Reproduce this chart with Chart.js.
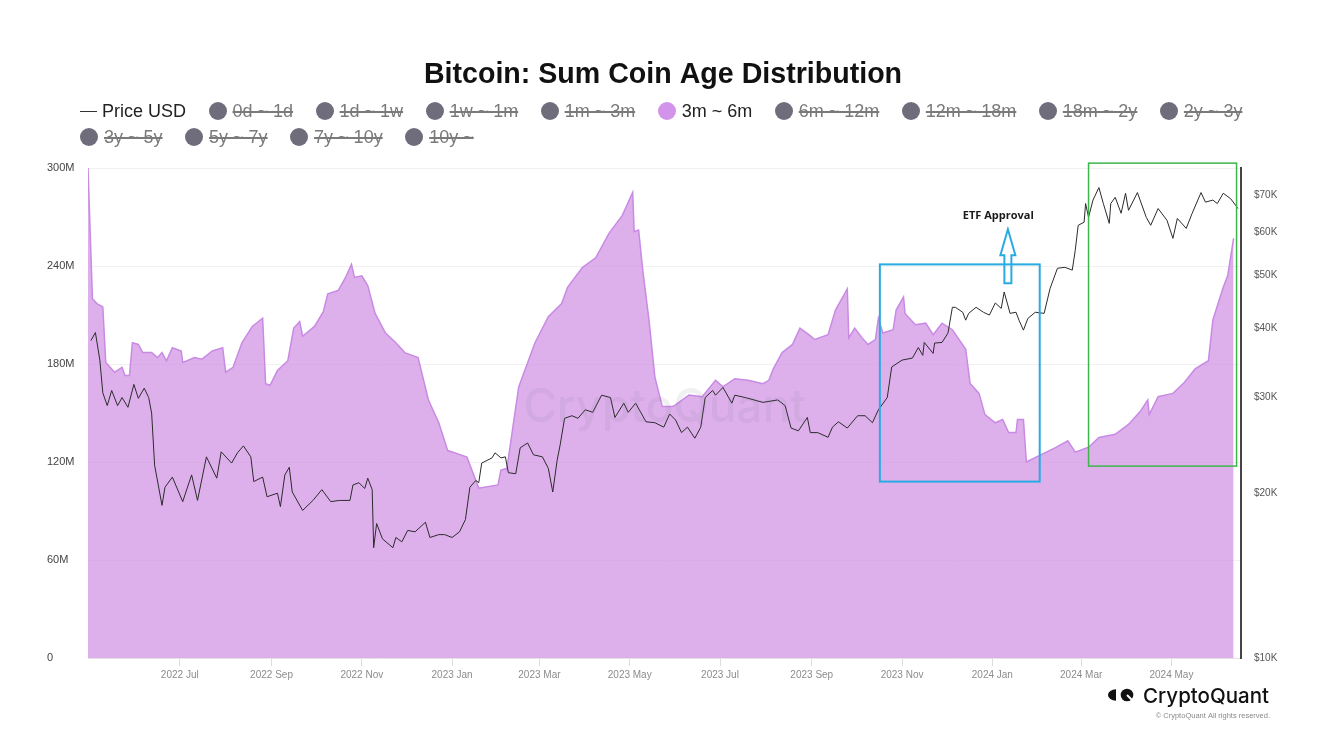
<!DOCTYPE html>
<html>
<head>
<meta charset="utf-8">
<title>Bitcoin: Sum Coin Age Distribution</title>
<script src="https://cdn.jsdelivr.net/npm/chart.js@4.4.1/dist/chart.umd.min.js"></script>
<style>
    html, body { margin: 0; padding: 0; background: #fff; }
    #wrap { position: relative; width: 1321px; height: 736px; }
    #legend {
        position: absolute; left: 80px; top: 98px; width: 1180px;
        display: flex; flex-wrap: wrap; column-gap: 22.5px;
        font: 18px "Liberation Sans", Arial, sans-serif; line-height: 26px;
    }
    .item { display: flex; align-items: center; height: 26px; white-space: nowrap; }
    .dot { width: 18px; height: 18px; border-radius: 50%; margin-right: 6px; }
    .dash { width: 17px; height: 1px; background: #333; margin-right: 5px; }
    .off { color: #7a7a7a; text-decoration: line-through; text-decoration-thickness: 1.5px; }
    .on { color: #222; }
</style>
</head>
<body>
<div id="wrap">
    <canvas id="coinAgeChart" width="1321" height="736"></canvas>
    <div id="legend"></div>
</div>
<script>
// x values are days since 2022-04-30
const startDate = Date.UTC(2022, 3, 30);

// 3m ~ 6m cohort, millions
const areaDay = [
    0, 3, 6, 10, 12, 18, 23, 25, 28, 30,
    34, 37, 43, 47, 50, 53, 57, 63, 64, 72,
    77, 84, 91, 93, 98, 104, 111, 118, 120, 123,
    128, 135, 139, 143, 145, 153, 159, 162, 169, 174,
    178, 180, 185, 189, 194, 201, 208, 214, 223, 230,
    237, 243, 250, 256, 264, 277, 279, 283, 291, 302,
    311, 320, 324, 334, 343, 352, 361, 368, 369, 372,
    375, 379, 383, 388, 395, 397, 406, 415, 424, 429,
    437, 446, 456, 460, 463, 469, 476, 481, 487, 491,
    500, 505, 513, 514, 518, 523, 527, 532, 534, 537,
    544, 546, 551, 552, 559, 566, 571, 577, 584, 593,
    596, 602, 606, 613, 618, 622, 627, 628, 632, 634,
    645, 654, 662, 667, 676, 683, 694, 703, 711, 716,
    717, 723, 733, 740, 748, 757, 760, 767, 770, 774
];
const areaVal = [
    300, 220, 217, 215, 181, 175, 178, 173, 173, 193,
    192, 187, 187, 184, 187, 182, 190, 188, 181, 184,
    183, 188, 190, 175, 178, 193, 203, 208, 168, 167,
    176, 182, 202, 206, 197, 203, 212, 223, 225, 233,
    241, 233, 234, 228, 211, 199, 193, 187, 184, 158,
    144, 127, 125, 123, 104, 106, 115, 116, 166, 193,
    209, 217, 227, 239, 245, 260, 271, 285, 261, 262,
    236, 207, 172, 154, 154, 155, 161, 160, 170, 166,
    171, 170, 168, 170, 177, 187, 192, 202, 198, 195,
    198, 213, 226, 196, 202, 196, 192, 195, 208, 199,
    201, 213, 221, 211, 204, 205, 198, 205, 201, 189,
    168, 162, 149, 144, 146, 138, 138, 146, 146, 120,
    125, 129, 133, 126, 129, 135, 137, 143, 151, 158,
    149, 160, 162, 168, 177, 182, 207, 227, 234, 257
];

// BTC price, USD
const priceDay = [
    2, 5, 8, 10, 13, 16, 20, 23, 27, 31, 34, 38, 41, 43, 45, 50, 52, 57, 64, 70,
    74, 80, 87, 90, 97, 101, 105, 110, 112, 118, 121, 128, 130, 133, 136, 138, 145, 152, 158, 164,
    170, 177, 179, 183, 187, 189, 192, 193, 195, 199, 206, 208, 212, 216, 221, 228, 231, 237, 241, 246,
    251, 255, 258, 262, 264, 266, 273, 275, 279, 282, 284, 289, 292, 297, 301, 307, 311, 314, 317, 319,
    322, 327, 331, 336, 341, 347, 353, 356, 362, 365, 370, 377, 383, 389, 393, 397, 401, 405, 410, 414,
    417, 422, 424, 429, 435, 437, 444, 456, 466, 471, 475, 480, 486, 488, 493, 500, 503, 507, 513, 520,
    525, 530, 534, 540, 543, 550, 557, 561, 564, 565, 571, 572, 577, 581, 584, 586, 591, 593, 595, 600,
    605, 609, 613, 617, 619, 623, 627, 629, 632, 635, 640, 646, 650, 655, 660, 665, 667, 669, 673, 674,
    676, 679, 683, 686, 690, 691, 694, 698, 701, 703, 709, 715, 718, 723, 729, 733, 736, 742, 746, 752,
    755, 760, 763, 767, 772, 777
];
const priceUsd = [
    38000, 39300, 35000, 30500, 28900, 30800, 28900, 29900, 28700, 31600, 29800, 31100, 29900, 28000, 22500, 19000, 20500, 21400, 19300, 21600,
    19400, 23300, 21300, 23800, 22700, 23700, 24400, 23300, 21000, 21400, 19700, 20000, 18900, 21600, 22300, 20100, 18600, 19400, 20300, 19300,
    19400, 19400, 20700, 20900, 20400, 21300, 20300, 15900, 17600, 16500, 15900, 16600, 16300, 17100, 17000, 17700, 16600, 16800, 16800, 16600,
    17000, 17900, 20500, 21100, 20900, 22700, 23200, 23700, 23200, 23300, 21800, 21700, 24200, 24700, 23500, 23300, 22200, 20100, 23000, 24500,
    27400, 27700, 27400, 28400, 28100, 30200, 29900, 27500, 29200, 28100, 29200, 27000, 26900, 26400, 27900, 27200, 25800, 26400, 25200, 26400,
    29900, 30800, 30200, 31200, 29200, 30200, 29900, 29300, 29600, 28900, 26300, 26000, 27500, 25800, 25800, 25300, 26400, 27000, 26300, 27700,
    27700, 26900, 28400, 29900, 34000, 35000, 35300, 36900, 35700, 37700, 36000, 37600, 37700, 39200, 43700, 43700, 42800, 41400, 42600, 43700,
    42800, 42300, 44500, 43500, 46600, 42600, 42800, 41400, 39700, 41700, 42800, 42600, 47300, 51500, 51700, 51100, 55500, 61700, 62500, 67600,
    63800, 68600, 72300, 67600, 62200, 67600, 69400, 64900, 70600, 65700, 70800, 63800, 61700, 66200, 63000, 58400, 63500, 60900, 64900, 70800,
    68000, 68600, 67600, 70600, 69000, 66200
];

const cohortLabels = ['0d ~ 1d', '1d ~ 1w', '1w ~ 1m', '1m ~ 3m', '3m ~ 6m', '6m ~ 12m', '12m ~ 18m',
    '18m ~ 2y', '2y ~ 3y', '3y ~ 5y', '5y ~ 7y', '7y ~ 10y', '10y ~'];
const shownCohort = '3m ~ 6m';

const xTickLabels = ['2022 Jul', '2022 Sep', '2022 Nov', '2023 Jan', '2023 Mar', '2023 May',
    '2023 Jul', '2023 Sep', '2023 Nov', '2024 Jan', '2024 Mar', '2024 May'];
const leftTicks = [0, 60, 120, 180, 240, 300];
const priceTicks = [10000, 20000, 30000, 40000, 50000, 60000, 70000];

// annotations, in data units (day, millions)
const blueBox = {x0: 535, x1: 643, top: 241, bottom: 108};
const greenBox = {x0: 676, x1: 776, top: 303, bottom: 117.5};
const etfNote = {x: 615, y: 270.5, text: 'ETF Approval'};
const etfArrow = {x: 621.5, tip: 262.5, tail: 229.5};

const monthNames = ['Jan', 'Feb', 'Mar', 'Apr', 'May', 'Jun', 'Jul', 'Aug', 'Sep', 'Oct', 'Nov', 'Dec'];
function dayOfLabel(label) {
    const parts = label.split(' ');
    return (Date.UTC(+parts[0], monthNames.indexOf(parts[1]), 1) - startDate) / 86400000;
}

const PURPLE = '#d293ea';
const GREY_DOT = '#6f6d7b';

const datasets = [{
        label: 'Price USD',
        data: priceDay.map((d, i) => ({x: d, y: priceUsd[i]})),
        yAxisID: 'price',
        borderColor: '#2b2b2b',
        backgroundColor: '#2b2b2b',
        borderWidth: 1,
        pointRadius: 0,
        tension: 0,
        fill: false
    }];
cohortLabels.forEach(name => {
    if (name === shownCohort) {
        datasets.push({
            label: name,
            data: areaDay.map((d, i) => ({x: d, y: areaVal[i]})),
            yAxisID: 'y',
            borderColor: '#c98ae3',
            backgroundColor: 'rgba(206, 142, 228, 0.7)',
            legendColor: PURPLE,
            borderWidth: 1.5,
            pointRadius: 0,
            tension: 0,
            fill: 'origin'
        });
    } else {
        datasets.push({label: name, data: [], yAxisID: 'y', hidden: true,
            borderColor: GREY_DOT, backgroundColor: GREY_DOT, legendColor: GREY_DOT});
    }
});

const overlays = {
    id: 'overlays',
    afterDatasetsDraw(chart) {
        const {ctx, chartArea: a} = chart;
        ctx.save();
        ctx.font = '500 46px Inter, sans-serif';
        ctx.fillStyle = 'rgba(110, 110, 130, 0.10)';
        ctx.textAlign = 'center';
        ctx.textBaseline = 'middle';
        ctx.fillText('CryptoQuant', (a.left + a.right) / 2, (a.top + a.bottom) / 2 - 5);
        ctx.restore();
    },
    afterDraw(chart) {
        const {ctx, scales: {x, y}} = chart;
        ctx.save();

        function box(b, color, width) {
            const x0 = x.getPixelForValue(b.x0), x1 = x.getPixelForValue(b.x1);
            const y0 = y.getPixelForValue(b.top), y1 = y.getPixelForValue(b.bottom);
            ctx.strokeStyle = color;
            ctx.lineWidth = width;
            ctx.strokeRect(x0, y0, x1 - x0, y1 - y0);
        }
        box(blueBox, '#29abe2', 2);
        box(greenBox, '#3cb54a', 1.5);

        // hollow arrow
        const tx = x.getPixelForValue(etfArrow.x);
        const ty = y.getPixelForValue(etfArrow.tip);
        const by = y.getPixelForValue(etfArrow.tail);
        const head = 26, hw = 7.5, sw = 3.5;
        ctx.beginPath();
        ctx.moveTo(tx, ty);
        ctx.lineTo(tx + hw, ty + head);
        ctx.lineTo(tx + sw, ty + head);
        ctx.lineTo(tx + sw, by);
        ctx.lineTo(tx - sw, by);
        ctx.lineTo(tx - sw, ty + head);
        ctx.lineTo(tx - hw, ty + head);
        ctx.closePath();
        ctx.strokeStyle = '#29abe2';
        ctx.lineWidth = 2;
        ctx.stroke();

        ctx.font = 'bold 11px "Open Sans", sans-serif';
        ctx.fillStyle = '#1a1a1a';
        ctx.textAlign = 'center';
        ctx.textBaseline = 'middle';
        ctx.fillText(etfNote.text, x.getPixelForValue(etfNote.x), y.getPixelForValue(etfNote.y));

        // logo
        ctx.fillStyle = '#111';
        ctx.beginPath();
        ctx.ellipse(1116, 695, 8, 5.8, 0, Math.PI / 2, Math.PI * 1.5);
        ctx.closePath();
        ctx.fill();
        ctx.beginPath();
        ctx.arc(1127, 695, 6.3, 0, Math.PI * 2);
        ctx.fill();
        ctx.strokeStyle = '#fff';
        ctx.lineWidth = 2;
        ctx.beginPath();
        ctx.moveTo(1127, 695);
        ctx.lineTo(1134, 702);
        ctx.stroke();

        ctx.font = '500 20.5px Inter, sans-serif';
        ctx.textAlign = 'right';
        ctx.fillText('CryptoQuant', 1269, 697);
        ctx.font = '7.5px "Liberation Sans", Arial, sans-serif';
        ctx.fillStyle = '#8a8a8a';
        ctx.fillText('© CryptoQuant All rights reserved.', 1270, 716);
        ctx.restore();
    }
};

Chart.defaults.font.family = '"Liberation Sans", Arial, sans-serif';

const chart = new Chart(document.getElementById('coinAgeChart'), {
    type: 'line',
    data: {datasets: datasets},
    options: {
        responsive: false,
        animation: false,
        layout: {padding: {left: 47, right: 42, top: 0, bottom: 48}},
        plugins: {
            legend: {display: false},
            tooltip: {enabled: false},
            title: {
                display: true,
                text: 'Bitcoin: Sum Coin Age Distribution',
                color: '#111',
                font: {size: 28.6, weight: 'bold'},
                padding: {top: 58, bottom: 75.7}
            }
        },
        scales: {
            x: {
                type: 'linear',
                min: 0,
                max: 779,
                afterBuildTicks: s => { s.ticks = xTickLabels.map(l => ({value: dayOfLabel(l)})); },
                afterFit: s => { s.height = 30; },
                ticks: {
                    autoSkip: false,
                    maxRotation: 0,
                    color: '#8c8c8c',
                    font: {size: 10},
                    callback: (v, i) => xTickLabels[i]
                },
                grid: {drawOnChartArea: false, color: '#dcdcdc', tickLength: 8},
                border: {color: '#e3e3e3'}
            },
            y: {
                position: 'left',
                min: 0,
                max: 300,
                afterBuildTicks: s => { s.ticks = leftTicks.map(v => ({value: v})); },
                afterFit: s => { s.width = 41; },
                ticks: {
                    crossAlign: 'far',
                    color: '#444',
                    font: {size: 11},
                    callback: v => v === 0 ? '0' : v + 'M'
                },
                grid: {color: '#f1f1f1', drawTicks: false},
                border: {display: false}
            },
            price: {
                type: 'logarithmic',
                position: 'right',
                min: 10000,
                max: 78500,
                afterBuildTicks: s => { s.ticks = priceTicks.map(v => ({value: v})); },
                afterFit: s => { s.width = 38; },
                ticks: {
                    padding: 13,
                    color: '#555',
                    font: {size: 10},
                    callback: v => '$' + (v / 1000) + 'K'
                },
                grid: {display: false, drawTicks: false},
                border: {display: true, color: '#444', width: 2}
            }
        }
    },
    plugins: [overlays]
});

// html legend built from the chart datasets
const legendEl = document.getElementById('legend');
chart.data.datasets.forEach(ds => {
    const item = document.createElement('div');
    item.className = 'item';
    const mark = document.createElement('span');
    if (ds.yAxisID === 'price') {
        mark.className = 'dash';
    } else {
        mark.className = 'dot';
        mark.style.background = ds.legendColor;
    }
    const text = document.createElement('span');
    text.textContent = ds.label;
    text.className = ds.hidden ? 'off' : 'on';
    item.appendChild(mark);
    item.appendChild(text);
    legendEl.appendChild(item);
});
</script>
</body>
</html>
